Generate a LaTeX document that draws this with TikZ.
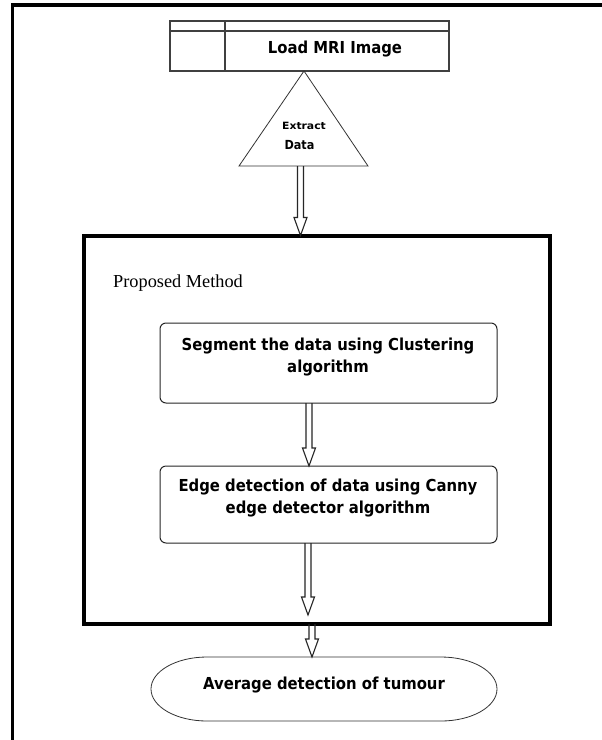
\documentclass[tikz,border=0pt]{standalone}
\usepackage{fontspec}
\setmainfont{Liberation Serif}
\newfontfamily\tahfont{DejaVu Sans}[FakeStretch=0.9]
\usetikzlibrary{calc}

\tikzset{
  frame/.style={line width=3.5pt, line join=miter},
  loadbox/.style={draw=black!75, line width=1.2pt, inner sep=0pt, outer sep=0pt},
  stepbox/.style={draw=black!85, line width=1pt, rounded corners=6pt,
    minimum width=337pt, inner sep=0pt, outer sep=0pt},
  methodbox/.style={draw, line width=4pt, inner sep=0pt, outer sep=0pt},
  thinln/.style={draw=black!80, line width=0.8pt},
  lbl/.style={font=\tahfont\bfseries\fontsize{16.5}{22}\selectfont,
    inner sep=0pt, align=center},
  hollow/.style={draw=black!85, line width=1.1pt, line join=miter,
    to path={let \p1=(\tikztostart), \p2=(\tikztotarget) in
      (\x1-3pt,\y1) -- (\x1-3pt,\y2+18pt) -- (\x1-6.5pt,\y2+18pt) -- (\x1,\y2)
      -- (\x1+6.5pt,\y2+18pt) -- (\x1+3pt,\y2+18pt) -- (\x1+3pt,\y1)}},
}

\begin{document}
\begin{tikzpicture}[x=1pt, y=-1pt]
\useasboundingbox (0,0) rectangle (602,740);
\fill[white] (0,0) rectangle (602,740);

% page frame: top and left rules only
\draw[frame] (602,5) -- (12.5,5) -- (12.5,740);

% input block
\node[loadbox, minimum width=279pt, minimum height=50pt] (load) at (309.5,46) {};
\draw[draw=black!75, line width=1.2pt]
  ([yshift=-10pt]load.north west) -- ([yshift=-10pt]load.north east);
\draw[draw=black!75, line width=1.2pt]
  ([xshift=55pt]load.north west) -- ([xshift=55pt]load.south west);
\node[lbl, anchor=base] (loadT) at (335,53.3) {Load MRI Image};

% extraction triangle
\coordinate (triA) at (304,71);
\coordinate (triL) at (239,166);
\coordinate (triR) at (368,166);
\coordinate (triB) at (300.5,166);
\draw[thinln] (triA) -- (triR) -- (triL) -- cycle;
\node[inner sep=0pt, anchor=base,
  font=\tahfont\bfseries\fontsize{10}{12}\selectfont] (extT) at (304,129)
  {\scalebox{1.2}[1]{Extract}};
\node[inner sep=0pt, anchor=base,
  font=\tahfont\bfseries\fontsize{12.5}{14}\selectfont] (dataT) at (299.5,149) {Data};

% proposed method frame
\node[methodbox, minimum width=466.5pt, minimum height=388.5pt] (prop) at (316.75,429.75) {};
\node[inner sep=0pt, anchor=base west, font=\fontsize{18.3}{22}\selectfont]
  (propT) at (113,287) {Proposed Method};

% processing steps
\node[stepbox, minimum height=80pt] (seg) at (328.5,363) {};
\node[lbl, anchor=north] (segT) at (328,337.5)
  {Segment the data using Clustering\\algorithm};
\node[stepbox, minimum height=77pt] (canny) at (328.5,504.5) {};
\node[lbl, anchor=north] (cannyT) at (328,479.2)
  {Edge detection of data using Canny\\edge detector algorithm};

% result
\node[inner sep=0pt, outer sep=0pt, minimum width=346pt, minimum height=64pt] (avg) at (324,689) {};
\draw[thinln] (207,657) -- (441,657)
  .. controls (471.9,657) and (497,671.3) .. (497,689)
  .. controls (497,706.7) and (471.9,721) .. (441,721)
  -- (207,721)
  .. controls (176.1,721) and (151,706.7) .. (151,689)
  .. controls (151,671.3) and (176.1,657) .. (207,657) -- cycle;
\node[lbl, anchor=base] (avgT) at (324,689) {Average detection of tumour};

% flow connectors
\draw[hollow] (triB) to (prop.north);
\draw[hollow] ([xshift=-19.5pt]seg.south) to (canny.north);
\draw[hollow] ([xshift=-20.5pt]canny.south) to ([yshift=9pt]prop.south);
\draw[hollow] ([xshift=-4.75pt]prop.south) to (avg.north);
\end{tikzpicture}
\end{document}
